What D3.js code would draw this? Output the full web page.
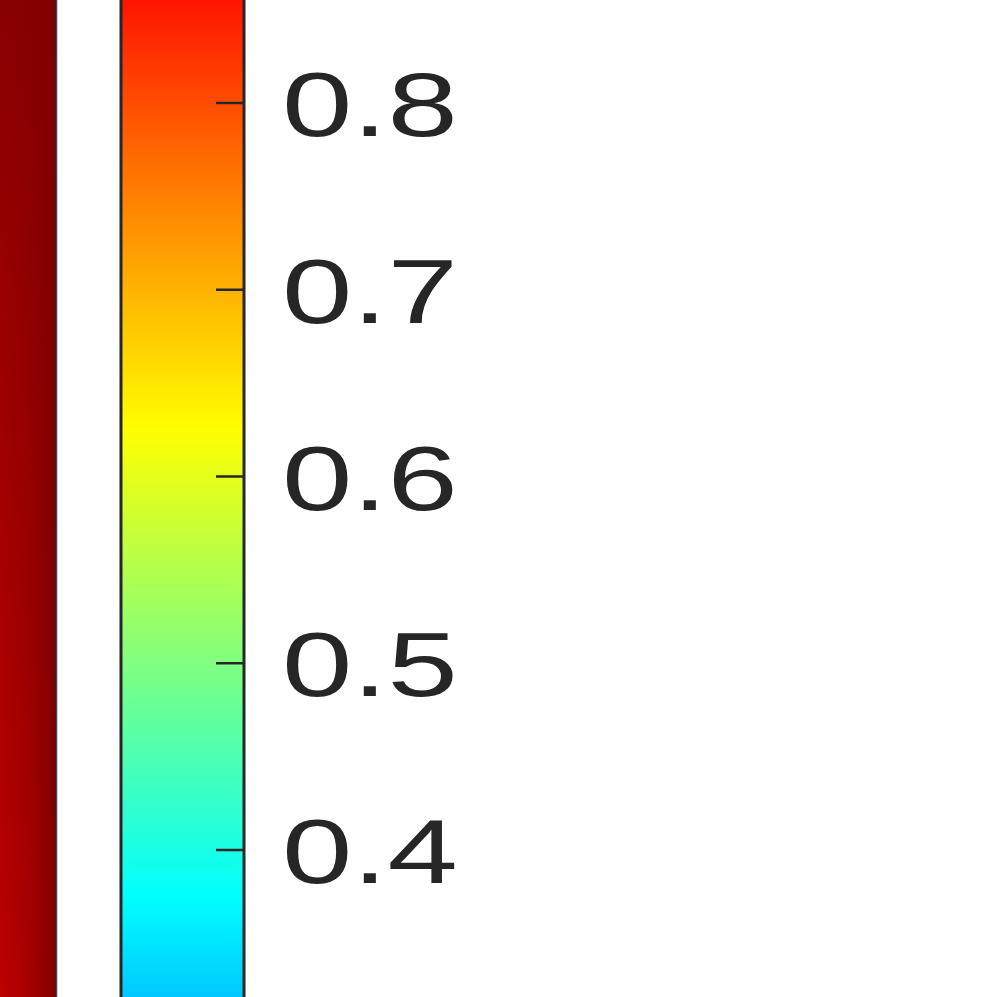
<!DOCTYPE html>
<html>
<head>
<meta charset="utf-8">
<script src="https://cdnjs.cloudflare.com/ajax/libs/d3/7.8.5/d3.min.js"></script>
<style>
  html, body { margin: 0; padding: 0; background: #fff; overflow: hidden; }
  svg { display: block; }
</style>
</head>
<body>
<script>
// jet colormap anchors
var jetStops = [0, 0.125, 0.375, 0.625, 0.875, 1];
var jetColors = ["#000080", "#0000ff", "#00ffff", "#ffff00", "#ff0000", "#800000"];

// colorbar ticks that fall inside the picture
var tickValues = [0.4, 0.5, 0.6, 0.7, 0.8];
var tickLabels = ["0.4", "0.5", "0.6", "0.7", "0.8"];

// visible edge of the heatmap (last columns), top and bottom rows
var heatX = [9, 9.5, 10];
var heatTop = [0.99, 0.993, 1.0];
var heatBottom = [0.94, 0.96, 1.0];

var width = 997, height = 997;

var jet = d3.scaleLinear().domain(jetStops).range(jetColors).clamp(true);

// colorbar value -> pixel
var y = d3.scaleLinear().domain([0.4, 0.8]).range([850, 103]);
// heatmap x -> pixel
var x = d3.scaleLinear().domain([9, 10]).range([0, 56]);

var svg = d3.select("body").append("svg")
    .attr("width", width)
    .attr("height", height);

var defs = svg.append("defs");

// Heatmap strip, interpolated shading: top row gradient + bottom row faded in
function rowGradient(id, vals) {
  var g = defs.append("linearGradient").attr("id", id)
      .attr("gradientUnits", "userSpaceOnUse")
      .attr("x1", x(heatX[0])).attr("x2", x(heatX[heatX.length - 1]))
      .attr("y1", 0).attr("y2", 0);
  g.selectAll("stop").data(vals).enter().append("stop")
      .attr("offset", function(d, i) { return (heatX[i] - heatX[0]) / (heatX[heatX.length - 1] - heatX[0]); })
      .attr("stop-color", function(d) { return jet(d); });
}
rowGradient("rowTop", heatTop);
rowGradient("rowBottom", heatBottom);

var fade = defs.append("linearGradient").attr("id", "fade")
    .attr("x1", 0).attr("x2", 0).attr("y1", 0).attr("y2", 1);
fade.append("stop").attr("offset", 0).attr("stop-color", "#fff").attr("stop-opacity", 0);
fade.append("stop").attr("offset", 1).attr("stop-color", "#fff").attr("stop-opacity", 1);
defs.append("mask").attr("id", "fadeMask")
  .append("rect")
    .attr("x", 0).attr("y", 0)
    .attr("width", x(10)).attr("height", height)
    .attr("fill", "url(#fade)");

var heat = svg.append("g");
heat.append("rect")
    .attr("x", x(9)).attr("y", 0)
    .attr("width", x(10) - x(9)).attr("height", height)
    .attr("fill", "url(#rowTop)");
heat.append("rect")
    .attr("x", x(9)).attr("y", 0)
    .attr("width", x(10) - x(9)).attr("height", height)
    .attr("fill", "url(#rowBottom)")
    .attr("mask", "url(#fadeMask)");

// axis box edge of the heatmap
heat.append("line")
    .attr("x1", x(10)).attr("x2", x(10))
    .attr("y1", 0).attr("y2", height)
    .attr("stroke", "#262626")
    .attr("stroke-opacity", 0.85)
    .attr("stroke-width", 2.5);

// Colorbar gradient (full 0..1 range, only part of it is in view)
var cbGrad = defs.append("linearGradient").attr("id", "cbGrad")
    .attr("gradientUnits", "userSpaceOnUse")
    .attr("x1", 0).attr("x2", 0)
    .attr("y1", y(0)).attr("y2", y(1));
cbGrad.selectAll("stop").data(jetStops).enter().append("stop")
    .attr("offset", function(d) { return d; })
    .attr("stop-color", function(d) { return jet(d); });

var cbLeft = 121, cbRight = 244;

var cb = svg.append("g");
cb.append("rect")
    .attr("x", cbLeft).attr("y", y(1))
    .attr("width", cbRight - cbLeft).attr("height", y(0) - y(1))
    .attr("fill", "url(#cbGrad)")
    .attr("stroke", "#262626")
    .attr("stroke-width", 3);

cb.selectAll(".tick")
    .data(tickValues)
  .enter().append("line")
    .attr("class", "tick")
    .attr("x1", cbRight - 28).attr("x2", cbRight)
    .attr("y1", function(d) { return y(d); })
    .attr("y2", function(d) { return y(d); })
    .attr("stroke", "#262626")
    .attr("stroke-width", 2.5);

// labels are stretched horizontally like the original picture
cb.selectAll(".lbl")
    .data(tickValues)
  .enter().append("text")
    .attr("class", "lbl")
    .attr("transform", function(d) { return "translate(282," + (y(d) + 33) + ") scale(1.39,1)"; })
    .style("font-family", "'Liberation Sans', Arial, sans-serif")
    .style("font-size", "91px")
    .attr("fill", "#262626")
    .text(function(d, i) { return tickLabels[i]; });
</script>
</body>
</html>
